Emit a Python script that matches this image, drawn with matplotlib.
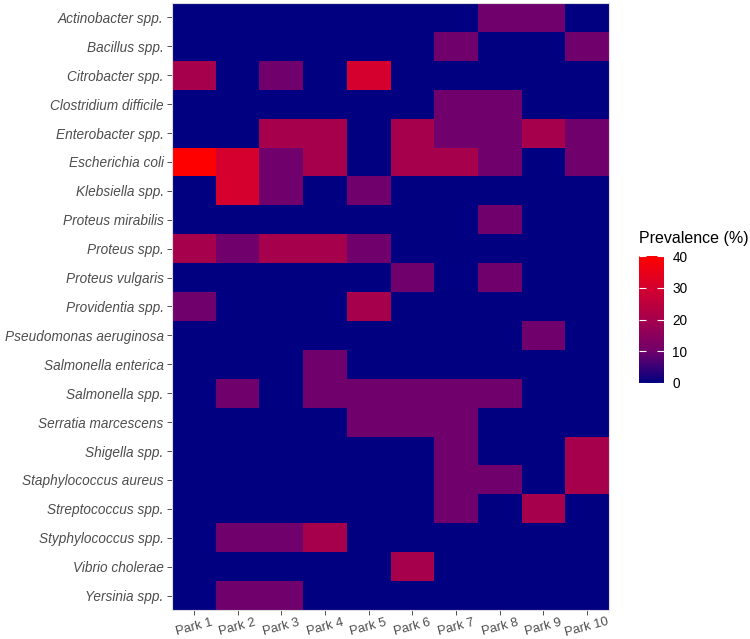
"""
Prevalence heatmap: bacterial species x park.
"""
import numpy as np
import matplotlib
matplotlib.use("Agg")
import matplotlib.pyplot as plt
from matplotlib.colors import LinearSegmentedColormap

plt.rcParams.update({"font.family": ["Liberation Sans", "DejaVu Sans"]})

species = ["Actinobacter spp.", "Bacillus spp.", "Citrobacter spp.",
           "Clostridium difficile", "Enterobacter spp.", "Escherichia coli",
           "Klebsiella spp.", "Proteus mirabilis", "Proteus spp.",
           "Proteus vulgaris", "Providentia spp.", "Pseudomonas aeruginosa",
           "Salmonella enterica", "Salmonella spp.", "Serratia marcescens",
           "Shigella spp.", "Staphylococcus aureus", "Streptococcus spp.",
           "Styphylococcus spp.", "Vibrio cholerae", "Yersinia spp."]
parks = [f"Park {i}" for i in range(1, 11)]

# prevalence (%) per species (rows) x park (cols)
prevalence = [
    [0, 0, 0, 0, 0, 0, 0, 10, 10, 0],
    [0, 0, 0, 0, 0, 0, 10, 0, 0, 10],
    [20, 0, 10, 0, 30, 0, 0, 0, 0, 0],
    [0, 0, 0, 0, 0, 0, 10, 10, 0, 0],
    [0, 0, 20, 20, 0, 20, 10, 10, 20, 10],
    [40, 30, 10, 20, 0, 20, 20, 10, 0, 10],
    [0, 30, 10, 0, 10, 0, 0, 0, 0, 0],
    [0, 0, 0, 0, 0, 0, 0, 10, 0, 0],
    [20, 10, 20, 20, 10, 0, 0, 0, 0, 0],
    [0, 0, 0, 0, 0, 10, 0, 10, 0, 0],
    [10, 0, 0, 0, 20, 0, 0, 0, 0, 0],
    [0, 0, 0, 0, 0, 0, 0, 0, 10, 0],
    [0, 0, 0, 10, 0, 0, 0, 0, 0, 0],
    [0, 10, 0, 10, 10, 10, 10, 10, 0, 0],
    [0, 0, 0, 0, 10, 10, 10, 0, 0, 0],
    [0, 0, 0, 0, 0, 0, 10, 0, 0, 20],
    [0, 0, 0, 0, 0, 0, 10, 10, 0, 20],
    [0, 0, 0, 0, 0, 0, 10, 0, 20, 0],
    [0, 10, 10, 20, 0, 0, 0, 0, 0, 0],
    [0, 0, 0, 0, 0, 20, 0, 0, 0, 0],
    [0, 10, 10, 0, 0, 0, 0, 0, 0, 0],
]

# navy -> red, roughly like ggplot's Lab gradient
cmap = LinearSegmentedColormap.from_list(
    "navy_red", ["#000080", "#70006B", "#A6004C", "#D4002E", "#FF0000"])

Z = np.array(prevalence, dtype=float)
fig = plt.figure(figsize=(7.5, 6.39), dpi=100)
ax = fig.add_axes([172 / 750, 29 / 639, 437 / 750, 607 / 639])
mesh = ax.pcolormesh(np.arange(len(parks) + 1), np.arange(len(species) + 1), Z,
                     cmap=cmap, vmin=0, vmax=40)
ax.set_xlim(0, len(parks)); ax.set_ylim(len(species), 0)

ax.set_xticks(np.arange(len(parks)) + 0.5)
ax.set_xticklabels(parks, rotation=15, ha="center", color="#4D4D4D", fontsize=9.3)
ax.set_yticks(np.arange(len(species)) + 0.5)
ax.set_yticklabels(species, style="italic", color="#4D4D4D", fontsize=9.8)
ax.tick_params(length=3.5, width=0.6, color="#333333", pad=2.5)
ax.tick_params(axis="x", pad=1)
for s in ax.spines.values():
    s.set_color("#DDDDDD"); s.set_linewidth(0.8)

cax = fig.add_axes([639 / 750, (639 - 383) / 639, 25 / 750, 127 / 639])
cb = fig.colorbar(mesh, cax=cax, ticks=[0, 10, 20, 30, 40])
cb.outline.set_visible(False)
cax.tick_params(direction="in", color="white", length=5, width=0.8,
                left=True, right=True, labelsize=9.8, pad=6)
cax.set_title("Prevalence (%)", fontsize=11.5, loc="left", pad=9)

fig.savefig("out.png", dpi=100)
